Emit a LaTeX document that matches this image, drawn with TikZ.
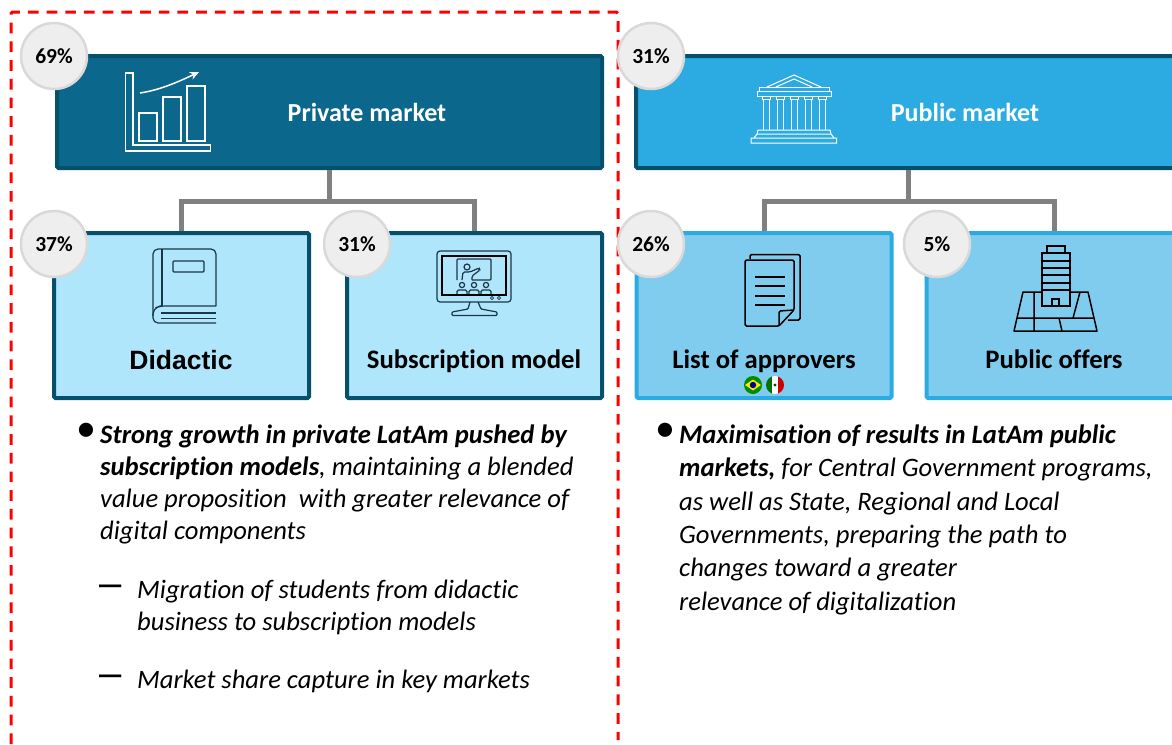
\documentclass[tikz,border=0pt]{standalone}
\usepackage{fontspec}
\usetikzlibrary{arrows.meta}
\setmainfont[Ligatures=NoCommon]{Carlito}
\newfontfamily\arialfont{Liberation Sans}
\definecolor{privblue}{HTML}{0B678C}
\definecolor{pubblue}{HTML}{2CABE3}
\definecolor{edgeblue}{HTML}{05506B}
\definecolor{paleblue}{HTML}{B0E6FC}
\definecolor{midblue}{HTML}{7FCCEE}
\definecolor{badgegray}{HTML}{EEEEEE}
\definecolor{badgeedge}{HTML}{D9D9D9}
\definecolor{linkgray}{HTML}{808080}
\definecolor{inkdark}{HTML}{1B3644}
\tikzset{
	boxbase/.style={rectangle,rounded corners=1.5pt,line width=4pt,inner sep=0pt},
	topbox/.style={boxbase,minimum width=545pt,minimum height=112pt},
	subbox/.style={boxbase,minimum width=255pt,minimum height=165pt},
	badge/.style={circle,draw=badgeedge,fill=badgegray,line width=2.5pt,minimum size=66pt,inner sep=0pt,font=\fontsize{21.5}{24}\selectfont\bfseries},
	link/.style={draw=linkgray,line width=5pt},
	title/.style={text=white,font=\fontsize{26}{30}\selectfont\bfseries},
	sublabel/.style={anchor=base,font=\fontsize{26.7}{30}\selectfont\bfseries},
	bodytext/.style={anchor=north west,inner sep=0pt,align=left},
	whiteicon/.style={draw=white,line width=1.5pt},
	darkicon/.style={draw=inkdark,line width=1.2pt},
	blackicon/.style={draw=black,line width=1.5pt}
}
\begin{document}
\begin{tikzpicture}[x=1pt,y=-1pt]
	\useasboundingbox (0,0) rectangle (1172,744);
	% Dashed frame
	\coordinate (frameA) at (11,744);
	\coordinate (frameB) at (11,12);
	\coordinate (frameC) at (618,12);
	\coordinate (frameD) at (618,740);
	\draw[red,line width=3pt,dash pattern=on 10.7pt off 8pt,rounded corners=1.5pt] (frameA)--(frameB)--(frameC)--(frameD);
	% Boxes
	\node[topbox,draw=edgeblue,fill=privblue] (privbox) at (329.5,112) {};
	\node[topbox,draw=edgeblue,fill=pubblue] (pubbox) at (908.5,112) {};
	\node[subbox,draw=edgeblue,fill=paleblue] (didbox) at (181.5,315.5) {};
	\node[subbox,draw=edgeblue,fill=paleblue] (subsbox) at (474.5,315.5) {};
	\node[subbox,draw=pubblue,fill=midblue] (listbox) at (764,315.5) {};
	\node[subbox,draw=pubblue,fill=midblue] (offerbox) at (1054,315.5) {};
	% Connectors
	\coordinate (privfork) at (329.5,201);
	\coordinate (pubfork) at (908.5,201);
	\draw[link] (privbox.south)--(privfork);
	\draw[link] (didbox.north) |- (privfork) -| (subsbox.north);
	\draw[link] (pubbox.south)--(pubfork);
	\draw[link] (listbox.north) |- (pubfork) -| (offerbox.north);
	% Titles
	\node[title] (privtitle) at (367,112) {Private market};
	\node[title] (pubtitle) at (965,112) {Public market};
	\node[sublabel,font=\arialfont\fontsize{26.5}{30}\selectfont\bfseries] (didtitle) at (181,369) {Didactic};
	\node[sublabel] (substitle) at (474,368.5) {Subscription model};
	\node[sublabel] (listtitle) at (764,368.5) {List of approvers};
	\node[sublabel] (offertitle) at (1054,368.5) {Public offers};
	% Badges
	\foreach \BadgePoint/\BadgeName/\BadgeLabel in {(54,56)/a/69,(651,56)/b/31,(54,244)/c/37,(357,244)/d/31,(651,244)/e/26,(937,244)/f/5}
	\node[badge] (badge\BadgeName) at \BadgePoint {\BadgeLabel\%};
	% Chart icon
	\draw[whiteicon] (125.5,73)--(133,73)--(133,145)--(210.5,145)--(210.5,151)--(125.5,151)--cycle;
	\foreach \BarLeft/\BarTop in {139/113,163/97,187/86}
	\draw[whiteicon] (\BarLeft,\BarTop) rectangle (\BarLeft+18,141);
	\draw[whiteicon,-{Stealth[open,length=9pt,width=8pt]}] (140,93) .. controls (160,90) and (178,82) .. (199,72);
	% Temple icon
	\draw[whiteicon,line width=1pt] (767,87)--(794,75)--(821,87) (776,87)--(794,79)--(812,87);
	\draw[whiteicon,line width=1pt] (759,87) rectangle (829,91) (757,91) rectangle (831,96);
	\foreach \ColX in {766,780,794,808,822}
	\draw[whiteicon,line width=1pt] (\ColX-4,96) rectangle (\ColX+4,99) (\ColX-3,99)--(\ColX-3,130) (\ColX+3,99)--(\ColX+3,130);
	\draw[whiteicon,line width=1pt] (758,130)--(830,130)--(831,134)--(757,134)--cycle (757,134)--(754,138) (831,134)--(834,138) (754,138)--(834,138) (751,138) rectangle (836.5,143);
	% Book icon
	\draw[darkicon,rounded corners=5pt] (216,306)--(216,249)--(153,249)--(153,323)--(216,323);
	\draw[darkicon,rounded corners=5pt] (216,306)--(160,306)--(153,309)--(153,316);
	\draw[darkicon] (162,249)--(162,306) (161,313)--(216,313) (161,318.5)--(216,318.5);
	\draw[darkicon,rounded corners=1pt] (173,261) rectangle (204,272);
	% Monitor icon
	\draw[darkicon,rounded corners=3pt] (437,251) rectangle (511,302);
	\draw[black,line width=2.4pt] (442,256) rectangle (506,295);
	\draw[darkicon,rounded corners=1pt] (457,280)--(457,259)--(491,259)--(491,280)--(472,280);
	\draw[darkicon] (467,267) circle (3);
	\draw[darkicon,rounded corners=1.5pt] (462,280)--(463,272)--(470,272)--(479,268)--(480,270)--(472,276)--(472,280);
	\foreach \SeatX in {462,474,486} {
	\draw[darkicon] (\SeatX,285) circle (2.6);
	\draw[darkicon,rounded corners=1.5pt] (\SeatX-5,294)--(\SeatX-5,290)--(\SeatX+5,290)--(\SeatX+5,294);
	}
	\foreach \KnobX in {492,499}
	\draw[darkicon,line width=.8pt] (\KnobX,298) circle (1.6);
	\draw[darkicon,rounded corners=1pt] (470,302)--(468,309)--(452,312)--(452,315.5)--(497,315.5)--(497,312)--(481,309)--(478,302);
	% Document icon
	\draw[blackicon,rounded corners=1.5pt] (750,259)--(750,254.5)--(800,254.5)--(800,320)--(788,320);
	\draw[blackicon,rounded corners=1.5pt] (779,326)--(745,326)--(745,260)--(794,260)--(794,310)--cycle;
	\draw[blackicon,rounded corners=1.5pt] (779,326)--(779,311)--(794,310);
	\foreach \RowY in {277,286,296,305}
	\draw[blackicon] (755,\RowY)--(785,\RowY);
	% Flags
	\fill[green!55!black] (753,385) circle (9);
	\fill[yellow!90!orange] (745,385)--(753,379.5)--(761,385)--(753,390.5)--cycle;
	\fill[blue!55!black] (753,385) circle (3.2);
	\begin{scope}
	\clip (775,385) circle (9);
	\fill[green!45!black] (766,376) rectangle (772,394);
	\fill[white] (772,376) rectangle (778,394);
	\fill[red!80!black] (778,376) rectangle (784,394);
	\fill[green!30!black] (775,385) circle (1.6);
	\end{scope}
	% Building icon
	\draw[blackicon,line join=round] (1023,292)--(1088,292)--(1097,331)--(1014,331)--cycle;
	\draw[blackicon] (1017,318)--(1093,318) (1034,292)--(1034,331) (1080,292)--(1073,318) (1059,318)--(1062,331);
	\draw[blackicon,fill=midblue] (1042,253) rectangle (1070,306);
	\draw[blackicon] (1047,253)--(1047,246)--(1065,246)--(1065,253);
	\foreach \FloorY in {261,268,275,283,290}
	\draw[blackicon] (1042,\FloorY)--(1070,\FloorY);
	\draw[blackicon] (1052,306)--(1052,299)--(1059,299)--(1059,306);
	% Body text
	\node[font=\fontsize{40}{40}\selectfont] (bulletleft) at (86.5,432) {•};
	\node[font=\fontsize{40}{40}\selectfont] (bulletright) at (665.5,432) {•};
	\node[bodytext,font=\fontsize{26.6}{32}\selectfont\itshape] (privtext) at (100,424.5) {\textbf{Strong growth in private LatAm pushed by}\\\textbf{subscription models}, maintaining a blended\\value proposition\ \ with greater relevance of\\digital components};
	\node[font=\arialfont\fontsize{40}{40}\selectfont] (dashone) at (111,591) {–};
	\node[bodytext,font=\fontsize{26.6}{32}\selectfont\itshape] (subone) at (137,579.5) {Migration of students from didactic\\business to subscription models};
	\node[font=\arialfont\fontsize{40}{40}\selectfont] (dashtwo) at (111,681) {–};
	\node[bodytext,font=\fontsize{26.6}{32}\selectfont\itshape] (subtwo) at (137,669.5) {Market share capture in key markets};
	\node[bodytext,font=\fontsize{26.6}{33.4}\selectfont\itshape] (pubtext) at (679,424.5) {\textbf{Maximisation of results in LatAm public}\\\textbf{markets,} for Central Government programs,\\as well as State, Regional and Local\\Governments, preparing the path to\\changes toward a greater\\relevance of digitalization};
\end{tikzpicture}
\end{document}
